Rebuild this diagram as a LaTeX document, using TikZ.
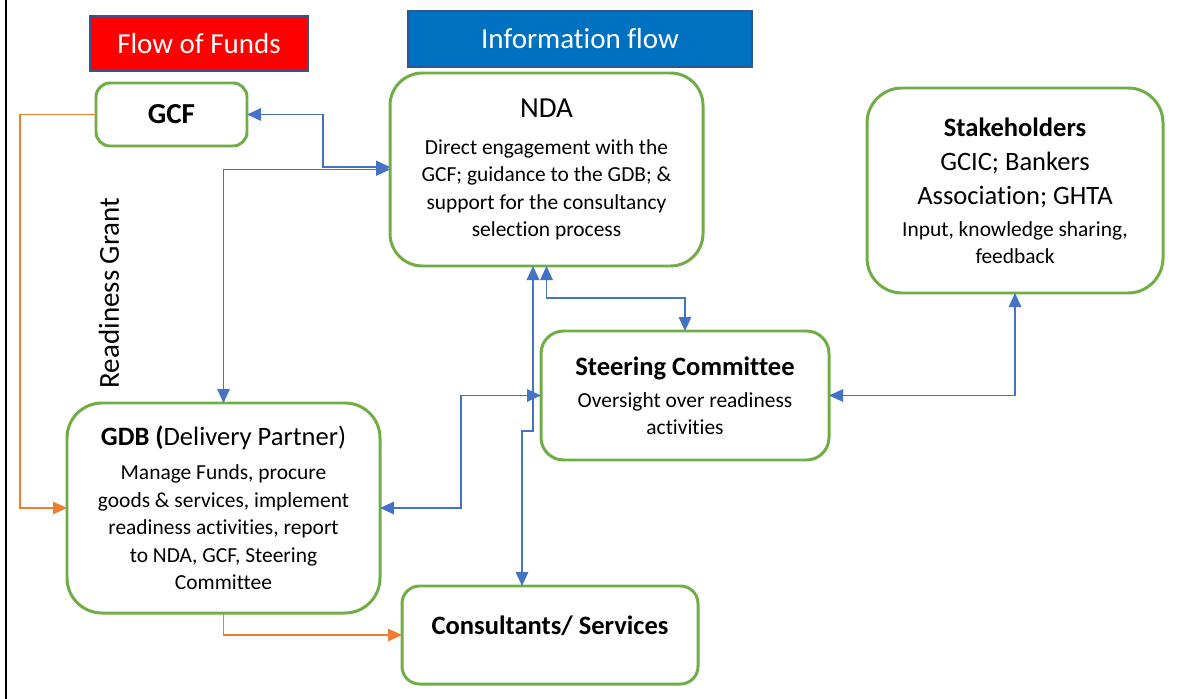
\documentclass[tikz,border=0pt]{standalone}
\usepackage{fontspec}
\setmainfont{Carlito}[Ligatures=NoCommon]
\usetikzlibrary{arrows.meta}

\definecolor{boxgreen}{HTML}{70AD47}
\definecolor{infoblue}{HTML}{4472C4}
\definecolor{fundorange}{HTML}{ED7D31}
\definecolor{headred}{HTML}{FF0000}
\definecolor{headblue}{HTML}{0070C0}
\definecolor{headedge}{HTML}{2F5597}

\newcommand{\headfont}{\fontsize{16.5}{20}\selectfont}
\newcommand{\titlefont}{\fontsize{15.1}{18}\selectfont}
\newcommand{\bodyfont}{\fontsize{12.2}{15.6}\selectfont}

\begin{document}
\begin{tikzpicture}[
        >={Triangle[length=0.28cm,width=0.25cm]},
        box/.style={draw=boxgreen, line width=1.7pt, fill=white, align=center, font=\bodyfont, outer sep=0pt},
        head/.style={draw=headedge, line width=1.1pt, text=white, font=\headfont, outer sep=0pt},
        info/.style={draw=infoblue, line width=0.9pt, <->},
        fund/.style={draw=fundorange, line width=0.9pt, ->}
    ]
        \useasboundingbox (0,0) rectangle (24,-13.98);
        \draw[line width=0.9pt] (0.12,0) -- (0.12,-13.98);

        % headings
        \node[head, fill=headred, minimum width=4.36cm, minimum height=1.1cm] (funds) at (3.98,-0.87) {Flow of Funds};
        \node[head, fill=headblue, minimum width=6.88cm, minimum height=1.12cm] (infoflow) at (11.6,-0.78) {Information flow};

        % actors
        \node[box, rounded corners=0.28cm, minimum width=3.02cm, minimum height=1.26cm, font=\headfont\bfseries] (gcf) at (3.43,-2.29) {GCF};
        \node[box, rounded corners=0.65cm, minimum width=6.26cm, minimum height=3.86cm] (nda) at (10.93,-3.39)
            {{\headfont NDA}\\[5.4pt] Direct engagement with the\\ GCF; guidance to the GDB; \&\\ support for the consultancy\\ selection process};
        \node[box, rounded corners=0.7cm, minimum width=5.92cm, minimum height=4.1cm] (stake) at (20.3,-3.81)
            {{\titlefont\bfseries Stakeholders}\\[3.8pt] {\titlefont GCIC; Bankers}\\[3.8pt] {\titlefont Association; GHTA}\\[2.5pt] Input, knowledge sharing,\\ feedback};
        \node[box, rounded corners=0.45cm, minimum width=5.76cm, minimum height=2.58cm] (steer) at (13.7,-7.91)
            {{\titlefont\bfseries Steering Committee}\\[2.6pt] Oversight over readiness\\ activities};
        \node[box, rounded corners=0.7cm, minimum width=6.26cm, minimum height=4.2cm] (gdb) at (4.47,-10.16)
            {{\titlefont\textbf{GDB (}Delivery Partner)}\\[3.7pt] Manage Funds, procure\\ goods \& services, implement\\ readiness activities, report\\ to NDA, GCF, Steering\\ Committee};
        \node[box, rounded corners=0.35cm, minimum width=5.92cm, minimum height=1.96cm, font=\titlefont\bfseries, text depth=11pt] (cons) at (11,-12.7) {Consultants/ Services};

        \node[rotate=90, font=\headfont] (grant) at (2.18,-5.86) {Readiness Grant};

        % information flow
        \coordinate (gcfbend) at (6.46,-3.34);
        \draw[info] (gcf.east) -| (gcfbend) -- (gcfbend -| nda.west);
        \draw[info] (gdb.north) |- (nda.west);
        \coordinate (consbendA) at (10.66,-8.62);
        \coordinate (consbendB) at (10.44,-8.62);
        \draw[info] (consbendA |- nda.south) -- (consbendA) -- (consbendB) -- (consbendB |- cons.north);
        \draw[info] (nda.south) -- ++(0,-0.64) -| (steer.north);
        \coordinate (steerbend) at (9.22,-7.91);
        \draw[info] (gdb.east) -| (steerbend) -- (steer.west);
        \draw[info] (steer.east) -| (stake.south);

        % flow of funds
        \draw[fund] (gcf.west) -- ++(-1.52,0) |- (gdb.west);
        \draw[fund] (gdb.south) |- (cons.west);
\end{tikzpicture}
\end{document}
